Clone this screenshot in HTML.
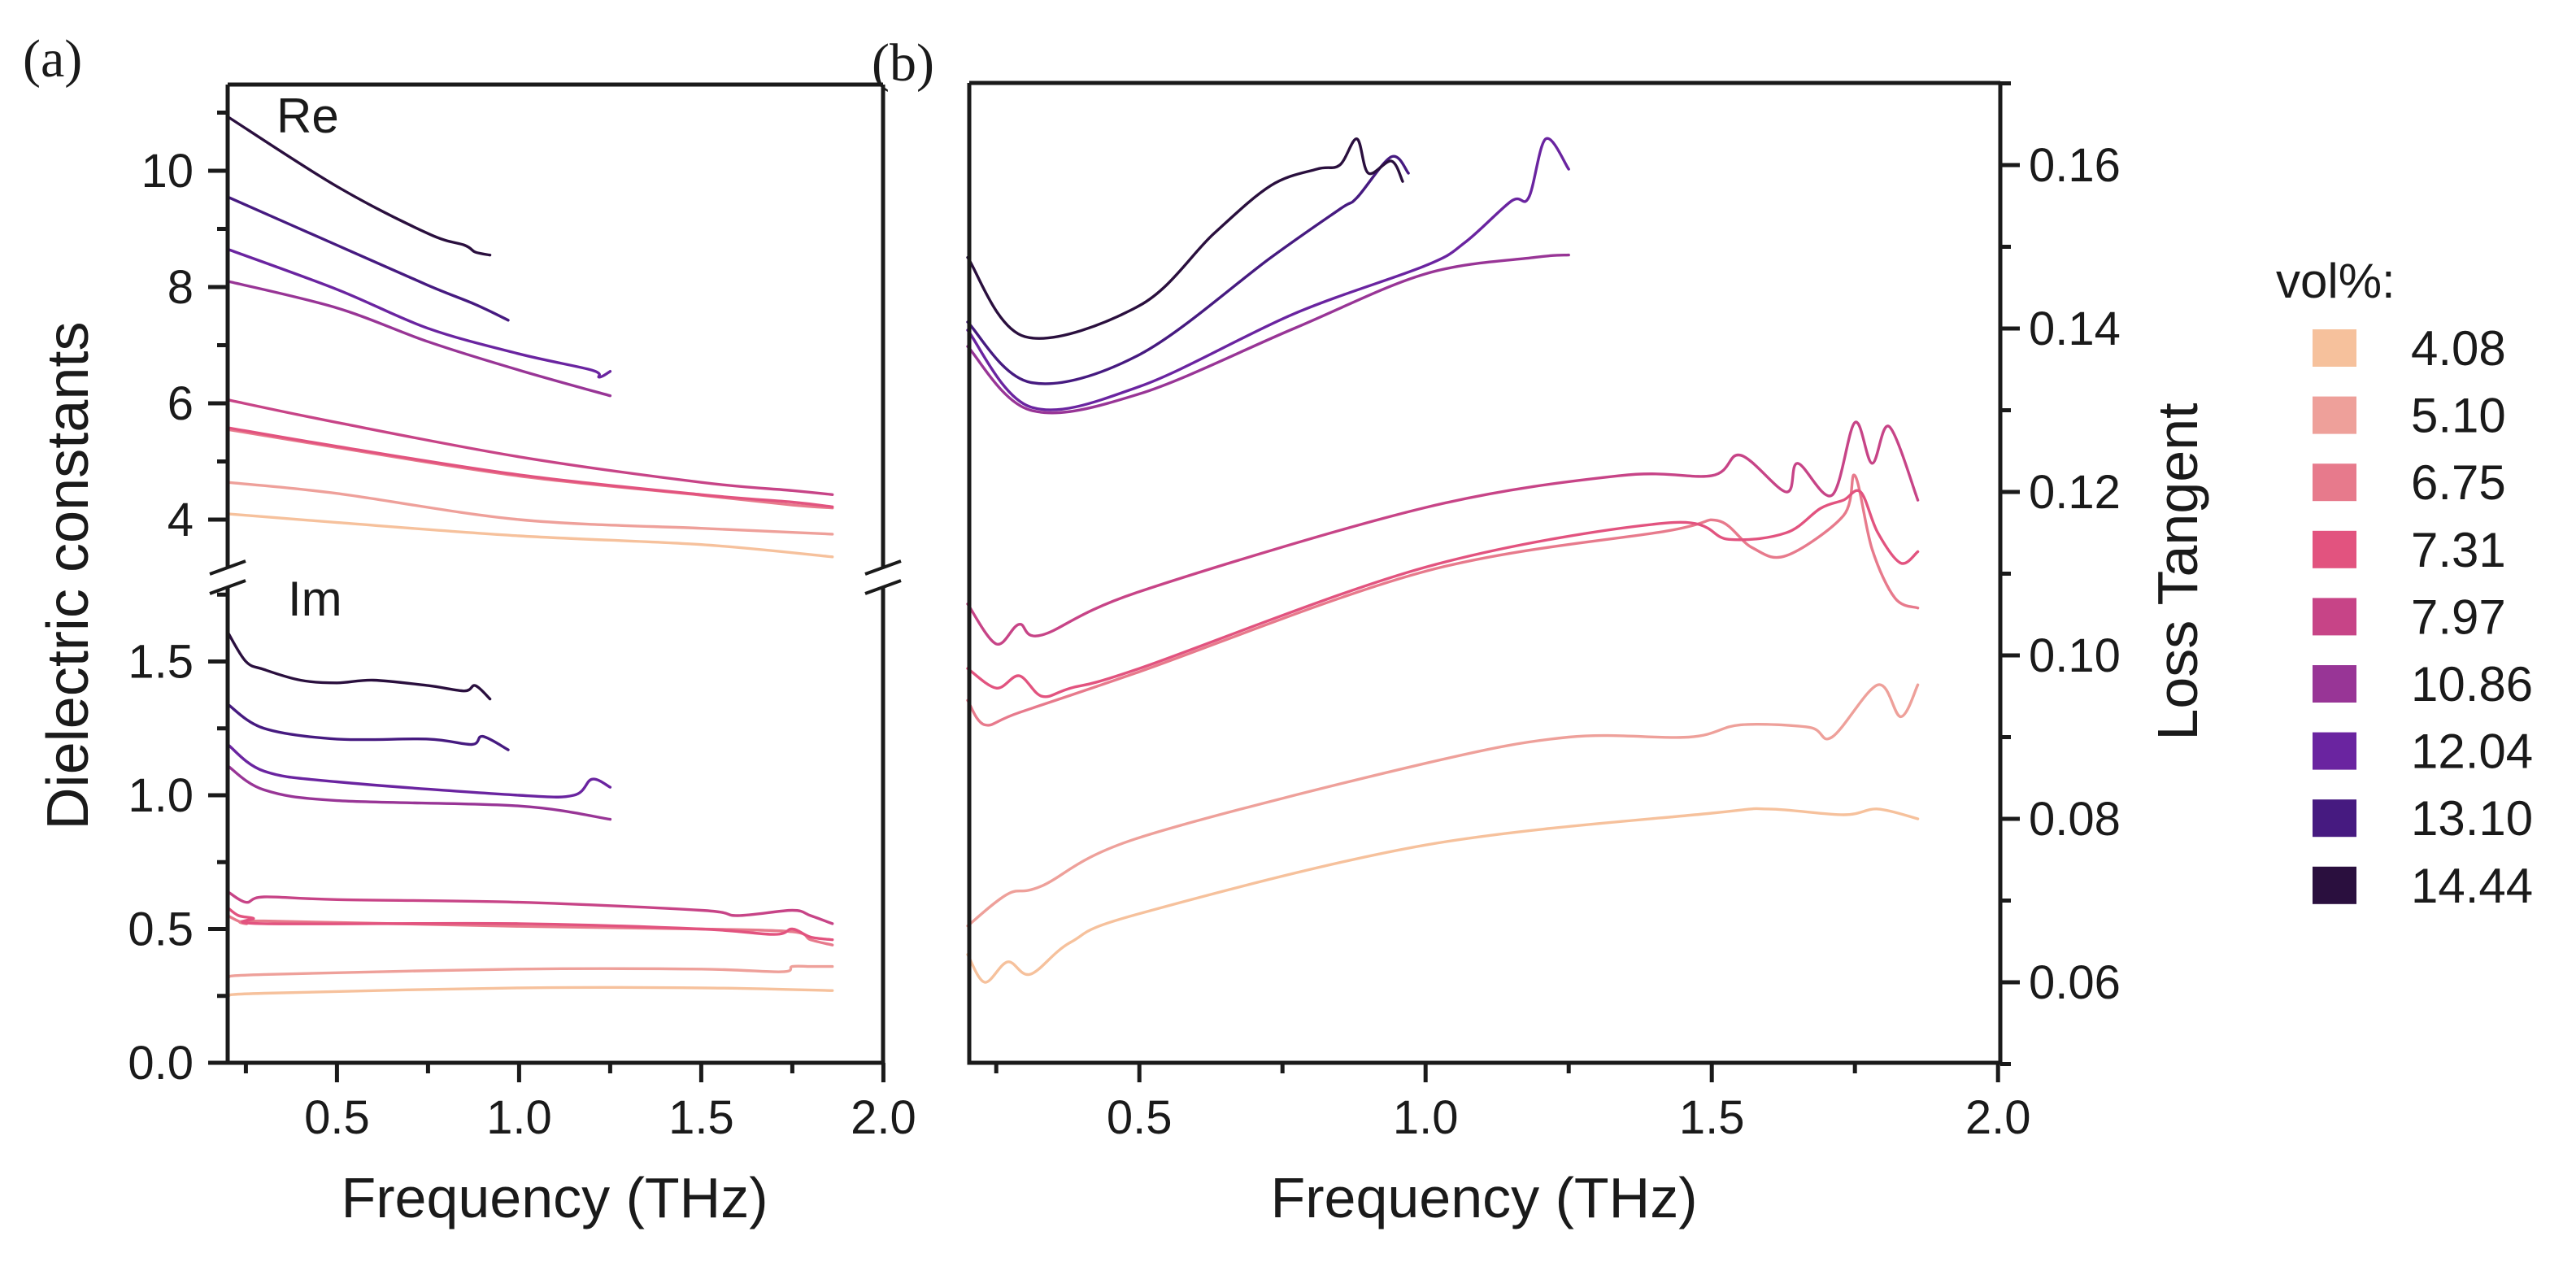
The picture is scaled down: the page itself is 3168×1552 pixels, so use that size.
<!DOCTYPE html>
<html><head><meta charset="utf-8">
<style>
html,body{margin:0;padding:0;background:#fff;}
svg{display:block;}
text{font-family:"Liberation Sans",sans-serif;fill:#1a1a1a;}
.nar{font-family:"Liberation Sans Narrow","Liberation Sans",sans-serif;}
.ser{font-family:"Liberation Serif",serif;}
</style></head>
<body>
<svg id="fig" width="3168" height="1552" viewBox="0 0 3168 1552" xmlns="http://www.w3.org/2000/svg">
<g id="pa"></g>
<g id="pb"></g>
<g id="lg"></g>
</svg>
<script>
const series = ["4.08","5.10","6.75","7.31","7.97","10.86","12.04","13.10","14.44"];
const colors = ["#f6c19c","#eea09a","#e77a8c","#e2537f","#c74487","#983596","#6a24a0","#461a80","#2a0f3e"];
const reX = [
 [0.2,0.5,1.0,1.5,1.86],
 [0.2,0.5,1.0,1.5,1.75,1.86],
 [0.2,0.5,1.0,1.5,1.75,1.86],
 [0.2,0.5,1.0,1.5,1.75,1.86],
 [0.2,0.5,1.0,1.5,1.75,1.86],
 [0.2,0.5,0.75,1.0,1.25],
 [0.2,0.5,0.75,1.0,1.2,1.22,1.25],
 [0.2,0.5,0.75,0.88,0.97],
 [0.2,0.5,0.75,0.85,0.88,0.92]];
const reY = [
 [4.1,3.95,3.72,3.57,3.36],
 [4.64,4.45,4.0,3.85,3.78,3.75],
 [5.55,5.24,4.75,4.42,4.25,4.2],
 [5.58,5.26,4.77,4.43,4.3,4.22],
 [6.06,5.67,5.08,4.64,4.5,4.43],
 [8.1,7.64,7.06,6.57,6.13],
 [8.65,7.96,7.29,6.85,6.57,6.45,6.55],
 [9.55,8.72,8.03,7.7,7.43],
 [10.93,9.73,8.92,8.72,8.6,8.55]];
const imX = [
 [0.2,0.3,1.0,1.5,1.86],
 [0.2,0.3,1.0,1.5,1.72,1.75,1.8,1.86],
 [0.2,0.25,0.3,1.0,1.5,1.75,1.8,1.86],
 [0.2,0.23,0.27,0.3,1.0,1.5,1.7,1.75,1.8,1.86],
 [0.2,0.25,0.3,0.5,1.0,1.5,1.6,1.75,1.8,1.86],
 [0.2,0.3,0.5,1.0,1.25],
 [0.2,0.3,0.5,1.0,1.15,1.2,1.25],
 [0.2,0.3,0.5,0.75,0.87,0.9,0.97],
 [0.2,0.25,0.3,0.4,0.5,0.6,0.75,0.85,0.88,0.92]];
const imY = [
 [0.25,0.26,0.28,0.28,0.27],
 [0.32,0.33,0.35,0.35,0.34,0.36,0.36,0.36],
 [0.55,0.52,0.53,0.51,0.5,0.49,0.46,0.44],
 [0.58,0.55,0.54,0.52,0.52,0.5,0.48,0.5,0.47,0.46],
 [0.64,0.6,0.62,0.61,0.6,0.57,0.55,0.57,0.55,0.52],
 [1.11,1.02,0.98,0.96,0.91],
 [1.19,1.09,1.05,1.0,1.0,1.06,1.03],
 [1.34,1.25,1.21,1.21,1.19,1.22,1.17],
 [1.61,1.5,1.47,1.43,1.42,1.43,1.41,1.39,1.41,1.36]];
const ltX = [
 [0.2,0.23,0.27,0.31,0.38,0.5,1.0,1.5,1.6,1.73,1.79,1.86],
 [0.2,0.27,0.33,0.5,1.0,1.25,1.46,1.55,1.67,1.71,1.79,1.83,1.86],
 [0.2,0.23,0.29,0.5,1.0,1.42,1.51,1.57,1.63,1.73,1.75,1.78,1.82,1.86],
 [0.2,0.25,0.29,0.33,0.38,0.5,1.0,1.42,1.53,1.63,1.69,1.73,1.76,1.79,1.83,1.86],
 [0.2,0.25,0.29,0.33,0.5,1.0,1.34,1.5,1.55,1.63,1.65,1.71,1.75,1.78,1.81,1.86],
 [0.2,0.31,0.5,0.77,1.0,1.19,1.25],
 [0.2,0.31,0.5,0.77,1.0,1.07,1.15,1.18,1.21,1.25],
 [0.2,0.31,0.5,0.73,0.85,0.88,0.94,0.97],
 [0.2,0.3,0.5,0.63,0.73,0.81,0.85,0.88,0.9,0.94,0.96]];
const ltY = [
 [0.0634,0.060,0.0625,0.061,0.0649,0.0684,0.0768,0.0807,0.0812,0.0805,0.0812,0.0800],
 [0.0669,0.0708,0.0718,0.0777,0.0868,0.0900,0.0900,0.0915,0.0912,0.0900,0.0964,0.0925,0.0964],
 [0.0945,0.0915,0.0930,0.0980,0.1103,0.1152,0.1165,0.1132,0.1122,0.1171,0.1220,0.1130,0.1070,0.1058],
 [0.0984,0.0960,0.0975,0.0950,0.0960,0.0984,0.1108,0.1162,0.1142,0.1150,0.1180,0.1190,0.1200,0.1150,0.1113,0.1127],
 [0.1063,0.1014,0.1038,0.1025,0.1078,0.1181,0.1220,0.1220,0.1245,0.1200,0.1235,0.1196,0.1285,0.1235,0.1280,0.1190],
 [0.1378,0.1300,0.1320,0.1400,0.1467,0.1487,0.1490],
 [0.1398,0.1304,0.1329,0.1418,0.1477,0.1506,0.1556,0.1560,0.1632,0.1595],
 [0.1408,0.1334,0.1368,0.1487,0.1546,0.1560,0.1610,0.1590],
 [0.1487,0.1390,0.1428,0.1516,0.1575,0.1595,0.1600,0.1632,0.1590,0.1605,0.1580]];
const legendTitle = "vol%:";
const xTicks = [0.5,1.0,1.5,2.0];
const reTicks = [4,6,8,10];
const imTicks = [0.0,0.5,1.0,1.5];
const ltTicks = [0.06,0.08,0.10,0.12,0.14,0.16];

const NS="http://www.w3.org/2000/svg";
function mk(parent,tag,attrs,txt){const e=document.createElementNS(NS,tag);for(const k in attrs)e.setAttribute(k,attrs[k]);if(txt!==undefined)e.textContent=txt;parent.appendChild(e);return e;}
const axA={x0:280,x1:1086,top:104,bot:1307};
const xA=v=>axA.x0+(v-0.2)*448;
const yRe=v=>210+(10-v)*71.5;
const yIm=v=>1307-v*329;
const axB={x0:1192,x1:2460,top:102,bot:1307};
const xB=v=>1190+(v-0.2)*704;
const yLT=v=>1208-(v-0.06)*10050;

const pa=document.getElementById('pa'), pb=document.getElementById('pb'), lg=document.getElementById('lg');

function path(g,xs,ys,fx,fy,col,name){
  const P=xs.map((x,i)=>[fx(x),fy(ys[i])]);
  let d='M'+P[0][0].toFixed(1)+' '+P[0][1].toFixed(1);
  for(let i=0;i<P.length-1;i++){
    const p0=P[Math.max(0,i-1)],p1=P[i],p2=P[i+1],p3=P[Math.min(P.length-1,i+2)];
    const c1=[p1[0]+(p2[0]-p0[0])/6,p1[1]+(p2[1]-p0[1])/6];
    const c2=[p2[0]-(p3[0]-p1[0])/6,p2[1]-(p3[1]-p1[1])/6];
    d+=` C${c1[0].toFixed(1)} ${c1[1].toFixed(1)} ${c2[0].toFixed(1)} ${c2[1].toFixed(1)} ${p2[0].toFixed(1)} ${p2[1].toFixed(1)}`;
  }
  const p=mk(g,'path',{d:d,fill:'none',stroke:col,'stroke-width':3.4,'stroke-linejoin':'round','stroke-linecap':'round'});
  
  
}
for(let i=0;i<series.length;i++){
  path(pa,reX[i],reY[i],xA,yRe,colors[i],'re-line-'+series[i]);
  path(pa,imX[i],imY[i],xA,yIm,colors[i],'im-line-'+series[i]);
}
const ax=mk(pa,'g',{stroke:'#1a1a1a','stroke-width':5,fill:'none'});


mk(ax,'path',{d:`M${axA.x0} ${axA.top} L${axA.x1} ${axA.top} M${axA.x0} ${axA.top} L${axA.x0} 698 M${axA.x0} 722 L${axA.x0} ${axA.bot} M${axA.x1} ${axA.top} L${axA.x1} 698 M${axA.x1} 722 L${axA.x1} ${axA.bot} M258 ${axA.bot} L${axA.x1} ${axA.bot}`});
for(const bx of [axA.x0,axA.x1]){
  mk(ax,'path',{d:`M${bx-22} ${706} L${bx+22} ${690} M${bx-22} ${730} L${bx+22} ${714}`,'stroke-width':4});
}
for(let v=0.25;v<=2.001;v+=0.25){
  const major=Math.abs(v*2-Math.round(v*2))<1e-6;
  mk(ax,'line',{x1:xA(v),x2:xA(v),y1:axA.bot,y2:axA.bot+(major?24:13)});
}
xTicks.forEach(v=>{const t=mk(pa,'text',{x:xA(v),y:1394,'font-size':58,'text-anchor':'middle'},v.toFixed(1));
 });
for(let v=4;v<=11;v+=1){const major=v%2===0;mk(ax,'line',{x1:axA.x0,x2:axA.x0-(major?24:13),y1:yRe(v),y2:yRe(v)});}
reTicks.forEach(v=>{const t=mk(pa,'text',{x:238,y:yRe(v)+20,'font-size':58,'text-anchor':'end'},String(v));
 });
for(let k=0;k<=7;k++){const v=k*0.25;const major=k%2===0;mk(ax,'line',{x1:axA.x0,x2:axA.x0-(major?24:13),y1:yIm(v),y2:yIm(v)});}
imTicks.forEach(v=>{const t=mk(pa,'text',{x:238,y:yIm(v)+20,'font-size':58,'text-anchor':'end'},v.toFixed(1));
 });
let t;
t=mk(pa,'text',{x:340,y:163,'font-size':60},'Re');
t=mk(pa,'text',{x:354,y:757,'font-size':60},'Im');
t=mk(pa,'text',{x:682,y:1497,'font-size':70,'text-anchor':'middle'},'Frequency (THz)');
t=mk(pa,'text',{x:0,y:0,'font-size':72,'text-anchor':'middle',transform:'translate(108,708) rotate(-90)',textLength:625,lengthAdjust:'spacingAndGlyphs'},'Dielectric constants');
t=mk(pa,'text',{x:28,y:94,'font-size':66,'class':'ser'},'(a)');

for(let i=0;i<series.length;i++) path(pb,ltX[i],ltY[i],xB,yLT,colors[i],'loss-line-'+series[i]);
const bx=mk(pb,'g',{stroke:'#1a1a1a','stroke-width':5,fill:'none'});


mk(bx,'path',{d:`M${axB.x0} ${axB.top} L${axB.x1} ${axB.top} M${axB.x0} ${axB.top} L${axB.x0} ${axB.bot} L${axB.x1+2} ${axB.bot} M${axB.x1} ${axB.top} L${axB.x1} ${axB.bot}`});
for(let v=0.25;v<=2.001;v+=0.25){
  const major=Math.abs(v*2-Math.round(v*2))<1e-6;
  mk(bx,'line',{x1:xB(v),x2:xB(v),y1:axB.bot,y2:axB.bot+(major?24:13)});
}
xTicks.forEach(v=>{const t=mk(pb,'text',{x:xB(v),y:1394,'font-size':58,'text-anchor':'middle','class':'nar'},v.toFixed(1));
 });
for(let k=5;k<=17;k++){const v=k/100;const major=k%2===0;mk(bx,'line',{x1:axB.x1,x2:axB.x1+(major?24:13),y1:yLT(v),y2:yLT(v)});}
ltTicks.forEach(v=>{const t=mk(pb,'text',{x:2495,y:yLT(v)+20,'font-size':58,'class':'nar'},v.toFixed(2));
 });
t=mk(pb,'text',{x:1825,y:1497,'font-size':70,'text-anchor':'middle','class':'nar'},'Frequency (THz)');
t=mk(pb,'text',{x:0,y:0,'font-size':70,'text-anchor':'middle','class':'nar',transform:'translate(2702,703) rotate(-90)'},'Loss Tangent');
t=mk(pb,'text',{x:1072,y:99,'font-size':66,'class':'ser'},'(b)');

t=mk(lg,'text',{x:2799,y:366,'font-size':60,'class':'nar'},legendTitle);
series.forEach((s,i)=>{
  const cy=428+i*82.6;
  const r=mk(lg,'rect',{x:2844,y:cy-23,width:54,height:46,fill:colors[i]});
  
  
  const tx=mk(lg,'text',{x:2965,y:cy+21,'font-size':60,'class':'nar'},s);
  
  
});
</script>
</body></html>
